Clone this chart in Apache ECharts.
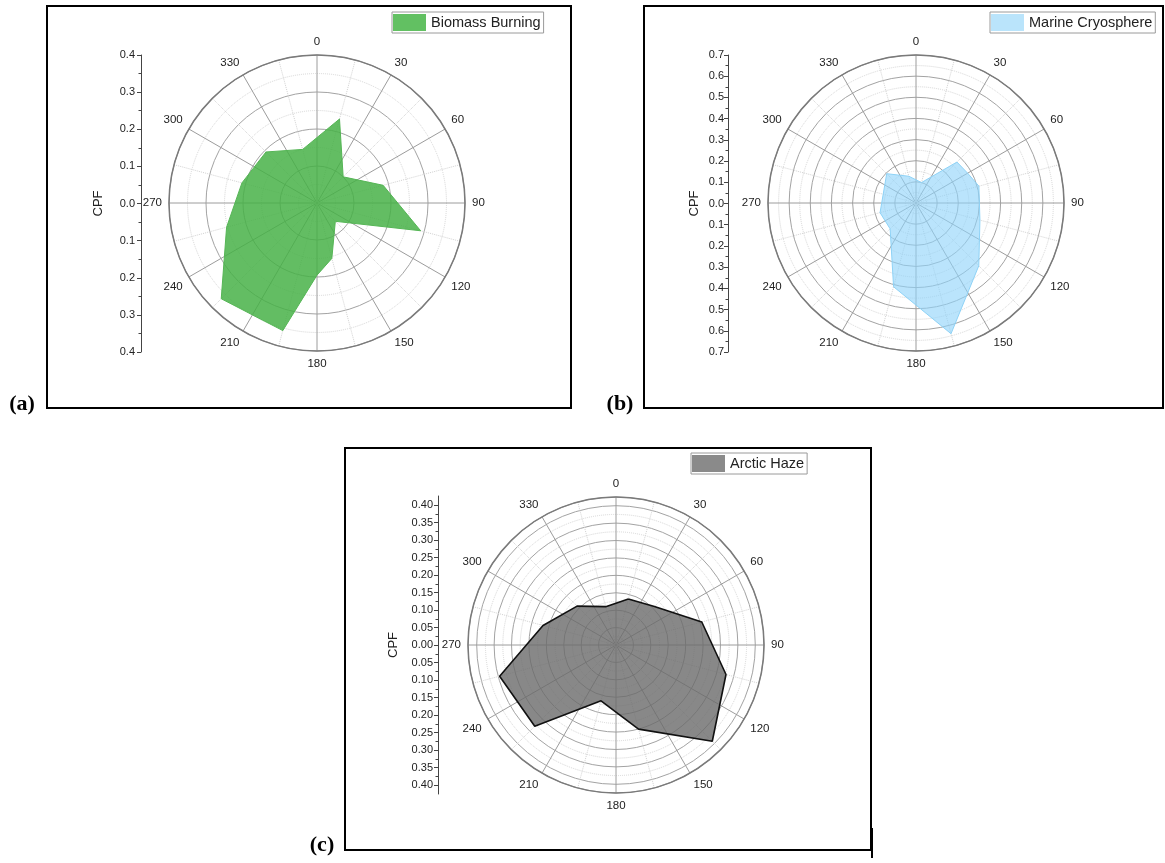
<!DOCTYPE html>
<html>
<head>
<meta charset="utf-8">
<script src="https://cdn.jsdelivr.net/npm/echarts@6/dist/echarts.min.js"></script>
<style>
  html, body { margin: 0; padding: 0; background: #fff; }
  #chart { width: 1165px; height: 863px; }
</style>
</head>
<body>
<div id="chart"></div>
<script>
// CPF polygon vertices: direction (degrees clockwise from north) and CPF value
const biomassAngles = [15, 45, 75, 105, 135, 165, 180, 195, 225, 255, 285, 315, 345];
const biomassCPF    = [0.235, 0.10, 0.185, 0.29, 0.07, 0.155, 0.195, 0.357, 0.366, 0.253, 0.21, 0.195, 0.15];

const marineAngles = [15, 45, 60, 75, 105, 135, 165, 195, 225, 255, 315, 345];
const marineCPF    = [0.10, 0.274, 0.282, 0.308, 0.313, 0.42, 0.64, 0.41, 0.173, 0.176, 0.196, 0.131];

const hazeAngles = [15, 45, 75, 105, 135, 165, 195, 225, 255, 285, 315, 345];
const hazeCPF    = [0.137, 0.156, 0.255, 0.327, 0.391, 0.250, 0.166, 0.330, 0.346, 0.217, 0.158, 0.114];

const seriesNames = ['Biomass Burning', 'Marine Cryosphere', 'Arctic Haze'];
const panelLabels = ['(a)', '(b)', '(c)'];

// radial scale of each panel: outer radius, ring step, CPF axis label decimals
const radialMax  = [0.4, 0.7, 0.425];
const radialStep = [0.1, 0.1, 0.05];
const cpfAxisMax = [0.4, 0.7, 0.4];
const cpfDecimals = [1, 1, 2];

// closed polygon in [radius, angle] pairs
function closedRing(angles, values) {
  const pts = angles.map((a, i) => [values[i], a]);
  pts.push(pts[0]);
  return pts;
}

const FONT = 'Liberation Sans';
const polarCenters = [[317, 203], [916, 203], [616, 645]];

const chart = echarts.init(document.getElementById('chart'), null, { renderer: 'canvas' });

const polar = polarCenters.map(c => ({ center: c, radius: 148 }));

const angleAxis = polarCenters.map((c, i) => ({
  polarIndex: i,
  type: 'value',
  min: 0, max: 360, interval: 30,
  startAngle: 90, clockwise: true,
  axisLine: { show: true, lineStyle: { color: '#7a7a7a', width: 1.5 } },
  axisTick: { show: false },
  minorTick: { show: false, splitNumber: 2 },
  axisLabel: {
    formatter: v => (v === 360 ? '' : String(v)),
    color: '#222', fontSize: 11.5, fontFamily: FONT, margin: 7
  },
  splitLine: { show: true, lineStyle: { color: '#9c9c9c', width: 1 } },
  minorSplitLine: { show: true, lineStyle: { color: '#d3d3d3', width: 1, type: 'dotted' } }
}));

const radiusAxis = polarCenters.map((c, i) => ({
  polarIndex: i,
  type: 'value',
  min: 0, max: radialMax[i], interval: radialStep[i],
  axisLine: { show: false },
  axisTick: { show: false },
  axisLabel: { show: false },
  minorTick: { show: false, splitNumber: 2 },
  splitLine: { show: true, lineStyle: { color: '#a3a3a3', width: 1 } },
  minorSplitLine: { show: true, lineStyle: { color: '#d6d6d6', width: 1, type: 'dotted' } }
}));

// left-hand CPF scales
const grid = [
  { left: 141, top: 55, height: 297, width: 10, outerBoundsMode: 'none' },
  { left: 728, top: 55, height: 297, width: 10, outerBoundsMode: 'none' },
  { left: 438, top: 505, height: 280, width: 10, outerBoundsMode: 'none' },
  { left: 438, top: 496, height: 298, width: 10, outerBoundsMode: 'none' }
];
const xAxis = grid.map((g, i) => ({ gridIndex: i, type: 'value', show: false, min: 0, max: 1 }));

const nameGaps = [36, 27, 38];
const labelMargins = [6, 4, 5];
const yAxis = [0, 1, 2].map(i => ({
  gridIndex: i,
  type: 'value',
  min: -cpfAxisMax[i], max: cpfAxisMax[i], interval: radialStep[i],
  axisLine: { show: i !== 2, onZero: false, lineStyle: { color: '#444', width: 1 } },
  axisTick: { show: true, inside: false, length: 4, lineStyle: { color: '#444' } },
  minorTick: { show: true, splitNumber: 2, length: 2.5, lineStyle: { color: '#444' } },
  axisLabel: {
    formatter: v => Math.abs(v).toFixed(cpfDecimals[i]),
    color: '#222', fontSize: 11, fontFamily: FONT, margin: labelMargins[i]
  },
  splitLine: { show: false },
  name: 'CPF', nameLocation: 'middle', nameRotate: 90, nameGap: nameGaps[i],
  nameTextStyle: { fontSize: 13, color: '#222', fontFamily: FONT }
}));
yAxis.push({
  gridIndex: 3, type: 'value', min: -1, max: 1,
  axisLine: { show: true, onZero: false, lineStyle: { color: '#444', width: 1 } },
  axisTick: { show: false }, axisLabel: { show: false }, splitLine: { show: false }
});

const legendColors = ['#62c062', '#bae4fb', '#8a8a8a'];
const legendPos = [[392, 12], [990, 12], [691, 453]];
const legend = legendPos.map((p, i) => ({
  left: p[0], top: p[1],
  orient: 'horizontal',
  padding: [2, 3, 2, 1],
  itemWidth: 33, itemHeight: 17,
  borderColor: '#9a9a9a', borderWidth: 1,
  selectedMode: false,
  data: [{ name: seriesNames[i], icon: 'rect', itemStyle: { color: legendColors[i] } }],
  textStyle: { fontSize: 14.5, color: '#222', fontFamily: FONT }
}));

const series = [
  {
    type: 'line', name: seriesNames[0], coordinateSystem: 'polar', polarIndex: 0,
    data: closedRing(biomassAngles, biomassCPF),
    symbol: 'none', smooth: false, silent: true,
    lineStyle: { color: '#55b555', width: 1 },
    itemStyle: { color: legendColors[0] },
    areaStyle: { color: '#45b045', opacity: 0.84 }
  },
  {
    type: 'line', name: seriesNames[1], coordinateSystem: 'polar', polarIndex: 1,
    data: closedRing(marineAngles, marineCPF),
    symbol: 'none', smooth: false, silent: true,
    lineStyle: { color: '#8ed2f6', width: 1 },
    itemStyle: { color: legendColors[1] },
    areaStyle: { color: '#8fd3fa', opacity: 0.62 }
  },
  {
    type: 'line', name: seriesNames[2], coordinateSystem: 'polar', polarIndex: 2,
    data: closedRing(hazeAngles, hazeCPF),
    symbol: 'none', smooth: false, silent: true,
    lineStyle: { color: '#111', width: 1.6 },
    itemStyle: { color: legendColors[2] },
    areaStyle: { color: '#6a6a6a', opacity: 0.8 }
  }
];

// panel frames and letters
const labelPos = [[22, 404], [620, 404], [322, 845]];
const graphic = [
  { type: 'rect', shape: { x: 47, y: 6, width: 524, height: 402 }, style: { fill: 'none', stroke: '#000', lineWidth: 2 }, silent: true },
  { type: 'rect', shape: { x: 644, y: 6, width: 519, height: 402 }, style: { fill: 'none', stroke: '#000', lineWidth: 2 }, silent: true },
  { type: 'rect', shape: { x: 345, y: 448, width: 526, height: 402 }, style: { fill: 'none', stroke: '#000', lineWidth: 2 }, silent: true },
  { type: 'line', shape: { x1: 872, y1: 828, x2: 872, y2: 858 }, style: { stroke: '#000', lineWidth: 2 }, silent: true }
].concat(labelPos.map((p, i) => ({
  type: 'text', x: p[0], y: p[1], silent: true,
  style: {
    text: panelLabels[i], fill: '#000',
    fontSize: 22, fontWeight: 'bold', fontFamily: 'Liberation Serif',
    align: 'center', verticalAlign: 'middle'
  }
})));

chart.setOption({
  animation: false,
  backgroundColor: '#fff',
  polar, angleAxis, radiusAxis,
  grid, xAxis, yAxis,
  legend, series, graphic
});
</script>
</body>
</html>
